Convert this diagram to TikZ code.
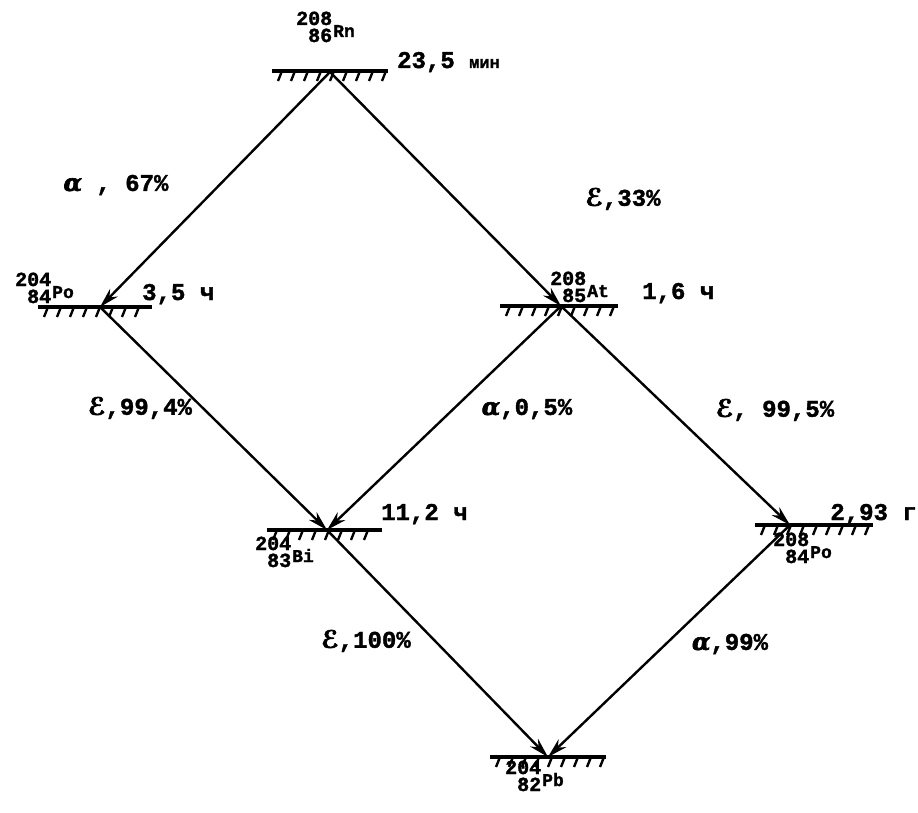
\documentclass[tikz,border=0pt]{standalone}
\usepackage{fontspec}
\setmainfont{Liberation Mono}[BoldFeatures={FakeBold=1.6}]
\newfontfamily\gkfont[FakeBold=2.5]{DejaVu Serif}
\newfontfamily\scrfont[FakeBold=3]{DejaVu Sans}
\usetikzlibrary{arrows.meta}
\tikzset{
  levelline/.style={line width=4.5pt},
  hatch/.style={line width=2.4pt},
  decay/.style={line width=2.4pt,-{Stealth[length=20pt,width=11pt]}},
  nucf/.style={inner sep=0pt,anchor=base west,font=\bfseries\fontsize{20}{17}\selectfont},
  hl/.style={inner sep=0pt,font=\bfseries\fontsize{24}{26}\selectfont},
  lab/.style={inner sep=0pt,font=\bfseries\fontsize{24}{28}\selectfont},
}
\newcommand\Al{{\gkfont\bfseries\itshape α}}
\newcommand\Ep{{\scrfont ℰ}}
\newcommand\nucl[3]{\begin{tabular}[b]{@{}r@{\hspace{1pt}}l@{}}\smash{#1}&\\\smash{#2}&\smash{\raisebox{5pt}{\fontsize{18}{18}\selectfont #3}}\end{tabular}}
\newcommand\lvl[3]{%
  \draw[levelline] (#1,#3) -- (#2,#3);
  \pgfmathsetmacro\hsA{#1+10}\pgfmathsetmacro\hsB{#1+23}\pgfmathsetmacro\hsE{#2-2}
  \foreach \hx in {\hsA,\hsB,...,\hsE}{\draw[hatch] (\hx,#3) -- ++(-4,10);}
}
\begin{document}
\begin{tikzpicture}[x=1pt,y=-1pt]
\useasboundingbox (0,0) rectangle (918,813);
% levels
\lvl{272}{388}{71}
\lvl{38}{152}{307}
\lvl{500}{618}{306}
\lvl{267}{382}{530}
\lvl{755}{873}{525}
\lvl{490}{606}{757}
\coordinate (Rn) at (330,72);
\coordinate (PoA) at (100,307);
\coordinate (At) at (561,306);
\coordinate (Bi) at (327,530);
\coordinate (PoB) at (790,525);
\coordinate (Pb) at (548,757);
% decays
\draw[decay] (Rn) -- (PoA);
\draw[decay] (Rn) -- (At);
\draw[decay] (PoA) -- (Bi);
\draw[decay] (At) -- (Bi);
\draw[decay] (At) -- (PoB);
\draw[decay] (Bi) -- (Pb);
\draw[decay] (PoB) -- (Pb);
% nuclide labels (x = right end of numbers - 36, y = baseline of lower row)
\node[nucf] (RnL) at (332-36,42) {\nucl{208}{86}{Rn}};
\node[nucf] (PoAL) at (51-36,303) {\nucl{204}{84}{Po}};
\node[nucf] (AtL) at (586-36,302) {\nucl{208}{85}{At}};
\node[nucf] (BiL) at (291-36,567) {\nucl{204}{83}{Bi}};
\node[nucf] (PoBL) at (809-36,563) {\nucl{208}{84}{Po}};
\node[nucf] (PbL) at (541-36,791) {\nucl{204}{82}{Pb}};
% half-lives
\node[hl,anchor=base west] (RnT) at (397,68) {23,5 {\fontsize{17}{20}\selectfont мин}};
\node[hl,anchor=base west] (PoAT) at (142,300) {3,5 ч};
\node[hl,anchor=base west] (AtT) at (642,299) {1,6 ч};
\node[hl,anchor=base west] (BiT) at (381,520) {11,2 ч};
\node[hl,anchor=base east] (PoBT) at (917,520) {2,93 г};
% decay labels
\node[lab] (l1) at (116,185) {\Al\ , 67\%};
\node[lab] (l2) at (623,199) {\Ep,33\%};
\node[lab] (l3) at (140,408) {\Ep,99,4\%};
\node[lab] (l4) at (527,409) {\Al,0,5\%};
\node[lab] (l5) at (775,410) {\Ep, 99,5\%};
\node[lab] (l6) at (366,641) {\Ep,100\%};
\node[lab] (l7) at (730,644) {\Al,99\%};
\end{tikzpicture}
\end{document}
